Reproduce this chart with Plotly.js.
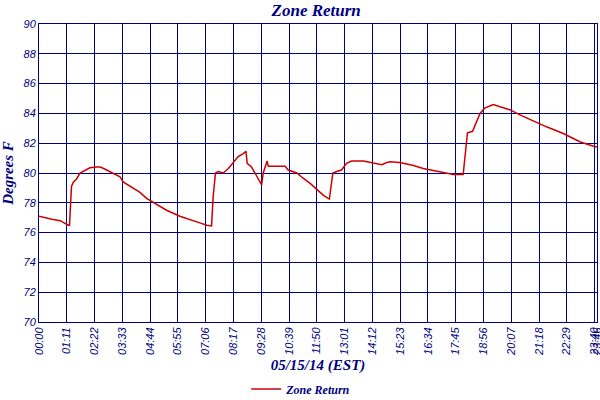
<!DOCTYPE html>
<html>
<head>
<meta charset="utf-8">
<script src="https://cdn.plot.ly/plotly-3.0.1.min.js"></script>
<style>
  html, body { margin: 0; padding: 0; background: #fff; }
  #chart { width: 600px; height: 400px; }
</style>
</head>
<body>
<div id="chart"></div>
<script>
// minutes since midnight, 05/15/14
var minutes = [0, 15, 33, 54, 66, 75, 78, 80, 83, 88, 96, 105, 118, 130, 147, 157,
  173, 189, 207, 215, 240, 258, 275, 291, 309, 326, 360, 386, 411, 429, 441, 445,
  451, 458, 471, 484, 497, 509, 522, 529, 532, 543, 552, 560, 569, 573, 580, 583,
  586, 629, 637, 659, 675, 693, 710, 727, 742, 751, 761, 773, 786, 799, 829, 863,
  876, 889, 897, 922, 957, 982, 1008, 1033, 1059, 1084, 1089, 1095, 1108, 1118,
  1127, 1139, 1161, 1178, 1203, 1229, 1263, 1297, 1340, 1382, 1417, 1426];
var zoneReturn = [77.1, 77.0, 76.9, 76.8, 76.6, 76.5, 76.5, 78.0, 79.1, 79.4, 79.6,
  80.0, 80.2, 80.35, 80.4, 80.4, 80.2, 80.0, 79.75, 79.4, 78.97, 78.7, 78.3, 78.05,
  77.75, 77.5, 77.1, 76.85, 76.65, 76.5, 76.45, 78.4, 80.0, 80.1, 80.0, 80.3, 80.7,
  81.1, 81.3, 81.45, 80.65, 80.4, 80.0, 79.6, 79.2, 80.0, 80.65, 80.8, 80.45, 80.45,
  80.2, 80.0, 79.65, 79.3, 78.9, 78.5, 78.25, 80.0, 80.1, 80.2, 80.65, 80.8, 80.8,
  80.65, 80.55, 80.7, 80.75, 80.7, 80.5, 80.3, 80.15, 80.0, 79.9, 79.9, 81.1, 82.7,
  82.8, 83.45, 84.0, 84.35, 84.6, 84.45, 84.25, 83.9, 83.5, 83.1, 82.65, 82.1, 81.8,
  81.75];

var tickMinutes = [0, 71, 142, 213, 284, 355, 426, 497, 568, 639, 710, 781, 852,
  923, 994, 1065, 1136, 1207, 1278, 1349, 1420, 1426];
var tickLabels = ["00:00", "01:11", "02:22", "03:33", "04:44", "05:55", "07:06",
  "08:17", "09:28", "10:39", "11:50", "13:01", "14:12", "15:23", "16:34", "17:45",
  "18:56", "20:07", "21:18", "22:29", "23:40", "23:46"];

var navy = "#000080";
var serif = {family: "Liberation Serif, DejaVu Serif, serif", color: navy, style: "italic", weight: "bold"};
var sans = {family: "Liberation Sans, Arial, sans-serif", color: navy, style: "italic", size: 11};

var trace = {
  x: minutes,
  y: zoneReturn,
  type: "scatter",
  mode: "lines",
  name: "Zone Return",
  line: {color: "#cc0000", width: 1.5}
};

var layout = {
  width: 600,
  height: 400,
  margin: {l: 39, r: 3, t: 24, b: 78, autoexpand: false},
  paper_bgcolor: "#fff",
  plot_bgcolor: "#fff",
  title: {text: "Zone Return", font: Object.assign({size: 17}, serif), x: 0.527, xanchor: "center", y: 0.975, yanchor: "middle"},
  xaxis: {
    range: [0, 1426],
    tickvals: tickMinutes,
    ticktext: tickLabels,
    tickangle: -90,
    tickfont: sans,
    ticklabeloverflow: "allow",
    automargin: false,
    showgrid: true,
    gridcolor: navy,
    gridwidth: 1,
    showline: true,
    linecolor: navy,
    linewidth: 1,
    mirror: true,
    ticks: "",
    zeroline: false,
    title: {text: "05/15/14 (EST)", font: Object.assign({size: 15}, serif), standoff: 4}
  },
  yaxis: {
    range: [70, 90],
    dtick: 2,
    tickfont: sans,
    automargin: false,
    showgrid: true,
    gridcolor: navy,
    gridwidth: 1,
    showline: true,
    linecolor: navy,
    linewidth: 1,
    mirror: true,
    ticks: "",
    zeroline: false,
    title: {text: "Degrees F", font: Object.assign({size: 15}, serif), standoff: 6}
  },
  showlegend: true,
  legend: {
    orientation: "h",
    x: 0.47,
    xanchor: "center",
    y: -0.225,
    yanchor: "middle",
    font: Object.assign({size: 12}, serif)
  }
};

Plotly.newPlot("chart", [trace], layout, {displayModeBar: false, staticPlot: true});
</script>
</body>
</html>
